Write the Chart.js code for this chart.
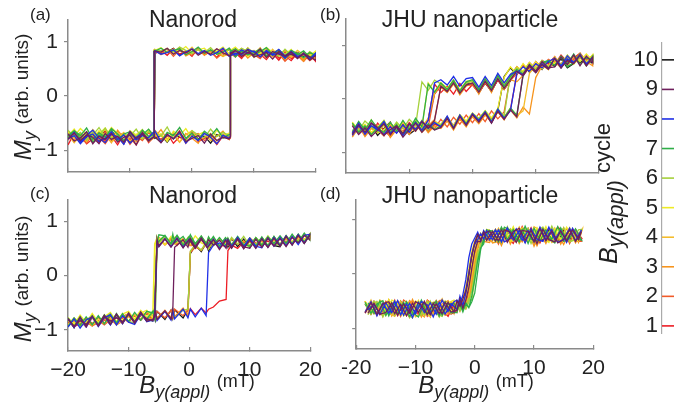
<!DOCTYPE html>
<html><head><meta charset="utf-8">
<script src="https://cdn.jsdelivr.net/npm/chart.js@4.4.1/dist/chart.umd.min.js"></script>
<style>
html,body{margin:0;padding:0;background:#fff;}
#root{position:relative;width:674px;height:411px;overflow:hidden;background:#fff;font-family:'Liberation Sans',Arial,Helvetica,sans-serif;color:#222;}
canvas{position:absolute;}
.t{position:absolute;white-space:nowrap;line-height:1;}
.pl{font-size:17px;}
.ti{font-size:23px;transform:translateX(-50%);}
.lab{position:absolute;white-space:nowrap;line-height:1;font-size:24px;}
.rot{transform:translate(-50%,-50%) rotate(-90deg);}
.hor{transform:translate(-50%,-50%);}
.big{font-style:italic;font-size:24px;}
.sub{font-style:italic;font-size:18px;position:relative;top:5px;}
.rest{font-size:18px;position:relative;top:-6px;}
.resty{font-size:19px;position:relative;top:-3px;}
.lab.lg{font-size:25px;transform-origin:0 0;transform:rotate(-90deg);}
.lg .big{font-size:25px;}
.lg .sub{font-size:22px;top:6px;}
.lg .rest{font-size:22px;top:-7px;}
</style></head>
<body><div id="root">
<canvas id="cA"></canvas><canvas id="cB"></canvas><canvas id="cC"></canvas><canvas id="cD"></canvas><canvas id="cL"></canvas>
<div class="t pl" style="left:30px;top:6px">(a)</div>
<div class="t pl" style="left:320px;top:6px">(b)</div>
<div class="t pl" style="left:30px;top:185px">(c)</div>
<div class="t pl" style="left:320px;top:185px">(d)</div>
<div class="t ti" style="left:193px;top:7.5px">Nanorod</div>
<div class="t ti" style="left:470px;top:7.5px">JHU nanoparticle</div>
<div class="t ti" style="left:193px;top:183.5px">Nanorod</div>
<div class="t ti" style="left:470px;top:183.5px">JHU nanoparticle</div>
<div class="lab rot" style="left:22.7px;top:97px"><span class="big">M</span><span class="sub">y</span> <span class="resty">(arb. units)</span></div>
<div class="lab rot" style="left:22.7px;top:279px"><span class="big">M</span><span class="sub">y</span> <span class="resty">(arb. units)</span></div>
<div class="lab hor" style="left:197px;top:385px"><span class="big">B</span><span class="sub">y(appl)</span> <span class="rest">(mT)</span></div>
<div class="lab hor" style="left:476px;top:385px"><span class="big">B</span><span class="sub">y(appl)</span> <span class="rest">(mT)</span></div>
<div class="lab lg" style="left:595.8px;top:264px"><span class="big">B</span><span class="sub">y(appl)</span> <span class="rest">cycle</span></div>
</div>
<script>
// ---------- tick values / labels ----------
const xTickValues = [-20, -10, 0, 10, 20];
const xTickLabelsC = ['\u221220', '\u221210', '0', '10', '20'];
const xTickLabelsD = ['-20', '\u221210', '0', '10', '20'];
const yTickValues = [-1, 0, 1];
const yTickLabels = ['\u22121', '0', '1'];
const cycleNumbers = [1, 2, 3, 4, 5, 6, 7, 8, 9, 10];
const cycleLabels = ['1', '2', '3', '4', '5', '6', '7', '8', '9', '10'];
const cycleColors = ['#ec1c24', '#f15a29', '#f7941d', '#f4bc2c', '#eeeb25', '#a5d13b', '#2fae48', '#1f2fe6', '#6e1f5c', '#1a1a1a'];

// ---------- (a) Nanorod: field swept up, then down (mT) ----------
const aX = [-20,-19,-18,-17,-16,-15,-14,-13,-12,-11,-10,-9,-8,-7,-6,-5,-4,-3,-2,-1,0,1,2,3,4,5,6,6.2,6.2,7,8,9,10,11,12,13,14,15,16,17,18,19,20,
 20,19,18,17,16,15,14,13,12,11,10,9,8,7,6,5,4,3,2,1,0,-1,-2,-3,-4,-5,-6,-6.1,-6.1,-7,-8,-9,-10,-11,-12,-13,-14,-15,-16,-17,-18,-19,-20];
// M_y in hundredths, one array per cycle
const a1 = [-68,-85,-72,-88,-79,-66,-83,-74,-90,-70,-81,-77,-64,-86,-73,-80,-69,-87,-75,-82,-67,-84,-78,-71,-89,-74,-80,-77,76,84,70,80,73,86,72,78,66,81,69,75,64,77,68,
 63,76,68,79,65,74,70,82,67,77,72,84,69,79,74,86,71,81,76,88,73,83,77,87,75,84,78,80,-76,-84,-70,-81,-67,-88,-74,-79,-65,-86,-72,-83,-77,-69,-90];
const a2 = [-81,-67,-79,-86,-70,-76,-88,-72,-66,-83,-77,-90,-71,-80,-68,-85,-74,-78,-64,-87,-73,-69,-82,-76,-89,-71,-79,-76,78,72,85,76,81,70,83,74,79,68,82,71,76,65,74,
 77,66,80,71,75,64,78,73,83,69,76,81,72,86,74,79,70,84,77,88,75,80,85,73,87,79,83,81,-75,-68,-82,-74,-89,-71,-79,-65,-84,-76,-70,-87,-73,-80,-78];
const a3 = [-77,-64,-83,-70,-86,-75,-68,-81,-73,-88,-66,-79,-71,-84,-76,-62,-80,-72,-85,-69,-78,-87,-67,-82,-74,-65,-80,-75,79,86,74,82,77,89,73,80,76,84,71,79,67,76,70,
 70,79,64,75,81,68,77,72,85,74,80,70,83,76,88,73,79,84,75,86,80,74,89,78,83,76,85,83,-73,-79,-66,-84,-72,-77,-63,-86,-70,-81,-75,-68,-87,-73,-79];
const a4 = [-65,-78,-70,-84,-68,-75,-61,-80,-73,-86,-66,-77,-71,-82,-63,-74,-79,-67,-85,-72,-64,-81,-76,-69,-83,-70,-74,-72,81,77,88,80,84,73,87,79,83,74,82,70,78,73,69,
 80,70,76,84,72,79,74,86,71,81,77,89,75,82,78,73,87,80,84,76,90,79,83,77,88,82,86,84,-72,-63,-77,-70,-83,-67,-76,-85,-69,-74,-62,-80,-73,-86,-71];
const a5 = [-74,-61,-77,-66,-82,-70,-59,-76,-68,-83,-64,-72,-79,-62,-75,-69,-84,-65,-73,-60,-78,-71,-66,-81,-63,-74,-68,-70,84,90,79,86,82,77,89,81,85,76,84,73,80,75,82,
 83,74,80,71,86,77,82,75,89,79,84,73,87,81,78,90,83,76,88,85,79,91,82,86,80,89,84,86,-69,-77,-62,-72,-66,-81,-69,-58,-75,-64,-79,-71,-60,-74,-67];
const a6 = [-63,-76,-69,-81,-66,-73,-59,-78,-71,-84,-65,-75,-62,-80,-68,-74,-57,-79,-70,-83,-64,-72,-77,-61,-75,-67,-73,-71,83,79,88,82,76,85,80,74,84,77,81,72,79,70,77,
 74,82,70,79,75,86,73,80,77,84,71,88,79,75,85,82,77,89,80,86,78,84,90,81,87,83,85,85,-70,-66,-79,-61,-74,-70,-83,-65,-76,-58,-72,-81,-67,-75,-63];
const a7 = [-77,-64,-73,-59,-80,-68,-75,-62,-83,-70,-66,-79,-72,-61,-76,-84,-67,-73,-58,-78,-69,-81,-65,-74,-60,-77,-71,-70,82,87,78,84,75,82,89,76,81,73,84,78,71,80,74,
 79,71,83,76,80,69,85,78,74,87,80,76,83,72,88,81,77,85,79,90,82,76,87,84,80,88,82,84,-71,-74,-63,-79,-68,-82,-70,-60,-76,-72,-85,-66,-78,-64,-73];
const a8 = [-80,-67,-84,-72,-63,-78,-86,-70,-75,-89,-66,-81,-73,-77,-64,-85,-71,-79,-68,-87,-74,-82,-69,-76,-88,-72,-78,-74,80,75,85,79,83,72,81,77,86,74,80,70,79,68,76,
 80,68,77,73,82,70,79,75,84,72,81,86,76,79,73,88,80,75,84,78,87,81,74,85,80,77,83,82,-74,-82,-69,-76,-87,-72,-80,-66,-78,-84,-70,-75,-88,-73,-79];
const a9 = [-70,-83,-77,-66,-88,-74,-80,-69,-85,-76,-72,-90,-67,-81,-75,-86,-71,-79,-65,-84,-78,-73,-87,-70,-82,-76,-79,-75,79,84,73,80,76,86,71,82,77,74,81,69,78,72,66,
 75,66,79,70,77,73,82,68,80,76,72,85,78,83,74,80,87,77,82,75,86,79,84,77,88,81,83,81,-75,-83,-70,-78,-66,-85,-74,-80,-69,-88,-76,-72,-82,-68,-79];
const a10 = [-79,-68,-75,-84,-70,-77,-65,-82,-73,-69,-86,-74,-80,-67,-78,-72,-85,-70,-76,-81,-66,-79,-74,-87,-71,-77,-75,-74,80,86,76,83,79,74,85,78,82,72,80,75,71,79,73,
 69,78,73,80,76,71,83,77,74,85,79,75,82,78,87,74,81,84,77,86,80,83,76,88,81,78,84,82,-73,-80,-68,-76,-71,-84,-73,-66,-79,-82,-70,-77,-86,-72,-75];

// ---------- (b) JHU nanoparticle ----------
const bX = [-19,-18,-17,-16,-15,-14,-13,-12,-11,-10,-9,-8,-7,-6,-5,-4,-3,-2,-1,0,1,2,3,4,5,6,7,8,9,10,11,12,13,14,15,16,17,18,19,
 19,18,17,16,15,14,13,12,11,10,9,8,7,6,5,4,3,2,1,0,-1,-2,-3,-4,-5,-6,-7,-8,-9,-10,-11,-12,-13,-14,-15,-16,-17,-18,-19];
const b1 = [-48,-63,-52,-67,-45,-58,-70,-50,-61,-44,-55,-42,-60,-47,-52,-36,-49,-31,-45,-28,-40,-25,-38,-21,-34,-19,45,63,52,70,58,74,64,82,69,77,85,68,80,
 80,66,84,71,77,62,79,65,72,56,68,50,60,38,22,35,16,30,12,27,14,29,9,24,12,28,-38,-55,-42,-60,-47,-63,-50,-66,-54,-45,-64,-49,-67];
const b2 = [-62,-47,-66,-51,-58,-69,-46,-60,-53,-65,-44,-59,-48,-55,-38,-52,-34,-47,-30,-44,-27,-42,-22,-37,-24,44,60,48,66,55,71,60,77,65,81,70,84,73,79,
 82,70,86,74,64,79,68,73,58,67,53,62,47,35,19,38,15,31,11,26,26,10,30,13,25,9,-52,-40,-58,-45,-62,-48,-57,-66,-51,-44,-63,-55,-68];
const b3 = [-65,-50,-70,-55,-62,-48,-72,-57,-64,-52,-60,-46,-63,-50,-55,-41,-58,-37,-52,-33,-46,-30,-43,-24,-39,-20,-35,-15,-28,40,62,58,72,64,80,66,76,70,62,
 76,63,80,68,74,58,70,55,63,50,58,44,32,36,18,40,12,34,9,30,24,8,28,12,22,-38,-50,-62,-45,-66,-52,-58,-70,-48,-63,-55,-68,-53,-71];
const b4 = [-46,-60,-50,-64,-55,-42,-61,-48,-66,-52,-58,-43,-56,-41,-49,-35,-51,-30,-44,-27,-38,-23,-40,-20,-34,-17,-31,-22,48,62,68,55,74,63,79,68,84,70,77,
 79,66,82,70,75,60,78,62,69,54,65,48,56,40,25,42,19,37,16,33,30,14,33,17,28,11,-36,-52,-40,-58,-44,-61,-47,-63,-55,-42,-60,-46,-65];
const b5 = [-43,-58,-47,-62,-52,-40,-60,-45,-63,-49,-55,-40,-53,-44,-47,-33,-50,-29,-41,-26,-37,-22,-35,-18,40,60,47,66,52,70,56,72,66,78,62,80,70,84,72,
 83,68,80,65,76,62,78,60,71,56,68,52,60,42,28,45,22,38,19,35,33,17,36,20,31,14,30,-55,-38,-58,-41,-60,-44,-57,-63,-39,-59,-43,-62];
const b6 = [-60,-44,-64,-49,-55,-40,-62,-47,-66,-51,-57,-41,-58,-44,-48,-33,-52,-30,-46,-27,-36,-22,-40,-18,-32,46,58,50,66,56,72,60,74,64,82,68,78,62,80,
 78,65,82,68,74,60,76,58,68,52,64,47,55,38,22,40,19,35,15,33,30,14,34,18,28,35,16,32,-50,-38,-56,-43,-60,-47,-62,-52,-41,-59,-48];
const b7 = [-45,-62,-50,-66,-54,-43,-63,-48,-67,-56,-42,-60,-46,-57,-50,-35,-54,-31,-46,-28,-39,-24,-42,-20,-35,-17,-30,44,62,50,68,72,62,80,66,84,64,78,70,
 80,64,84,68,60,78,63,70,68,50,64,46,55,42,24,44,20,38,17,36,32,15,35,18,30,13,28,-52,-36,-57,-40,-60,-44,-62,-55,-39,-58,-42,-63];
const b8 = [-63,-45,-66,-50,-58,-42,-64,-53,-68,-47,-56,-41,-55,-44,-52,-32,-54,-30,-48,-27,-40,-24,-43,-19,-36,-22,48,60,52,66,58,70,76,62,80,68,83,66,78,
 78,63,82,67,75,58,76,56,66,50,63,45,52,46,30,48,25,42,22,40,38,24,42,26,36,30,-40,-58,-44,-62,-48,-64,-52,-66,-57,-45,-65,-50,-68];
const b9 = [-50,-66,-54,-70,-58,-46,-67,-52,-71,-57,-45,-62,-49,-58,-53,-36,-55,-33,-49,-29,-43,-26,-45,-23,-38,-20,-33,46,64,52,70,58,60,78,64,82,62,80,68,
 78,62,82,66,72,58,76,56,64,49,61,43,52,36,20,38,16,33,13,30,26,11,30,14,24,-40,-54,-42,-60,-46,-64,-50,-57,-68,-53,-45,-62,-48,-66];
const b10 = [-60,-46,-64,-50,-68,-55,-43,-62,-49,-66,-57,-42,-59,-47,-50,-36,-53,-32,-47,-29,-41,-26,-44,-22,42,58,46,64,50,68,55,72,64,78,60,82,68,76,66,
 76,62,80,66,58,75,61,68,66,52,63,48,57,34,18,36,14,30,11,28,28,12,31,15,26,10,-38,-55,-42,-59,-46,-62,-50,-64,-56,-43,-61,-47,-66];

// ---------- (c) Nanorod ----------
const cX = [-20,-19,-18,-17,-16,-15,-14,-13,-12,-11,-10,-9,-8,-7,-6,-5.6,-5.3,-4,-3,-2.7,-2.4,-1,-0.2,0.2,1,2,2.8,3.2,4,5,6.1,6.4,7,8,9,10,11,12,13,14,15,16,17,18,19,20,
 20,19,18,17,16,15,14,13,12,11,10,9,8,7,6,5,4,3,2,1,0,-1,-2,-3,-4,-5,-5.3,-5.7,-6,-7,-8,-9,-10,-11,-12,-13,-14,-15,-16,-17,-18,-19,-20];
const c1 = [-80,-92,-84,-95,-78,-90,-82,-72,-88,-76,-70,-86,-74,-68,-80,-69,-78,-66,-79,-64,-76,-62,-75,-61,-72,-60,-69,-62,-58,-47,-44,46,56,50,62,54,66,58,63,56,68,61,70,64,74,69,
 76,66,73,60,70,58,67,55,65,57,66,54,68,56,63,52,67,58,70,56,66,58,70,60,68,62,64,-66,-74,-80,-70,-84,-73,-87,-76,-90,-80,-86,-93,-82,-89,-94,-85];
const c2 = [-90,-80,-93,-84,-77,-91,-82,-88,-74,-86,-72,-84,-70,-81,-68,-80,-66,-78,-64,-77,-62,-74,-63,42,52,47,58,50,62,56,54,64,58,66,55,69,60,54,67,59,70,62,72,64,75,69,
 74,64,72,60,69,57,67,54,66,56,64,53,67,55,66,52,64,54,68,57,58,67,55,68,57,70,60,-72,-78,-70,-82,-74,-86,-78,-89,-81,-91,-83,-88,-79,-92,-85,-90];
const c3 = [-82,-93,-79,-89,-76,-90,-80,-85,-73,-88,-75,-84,-70,-80,-82,-67,-79,-64,-78,-62,-76,-60,-74,44,56,46,60,49,63,54,66,56,68,57,64,54,69,58,71,60,56,70,62,73,65,74,
 72,62,70,57,68,55,66,52,64,54,62,51,65,53,61,50,63,54,65,55,55,64,58,66,56,68,58,-71,-77,-83,-72,-86,-75,-84,-91,-80,-89,-84,-93,-86,-91,-82,-94];
const c4 = [-80,-91,-83,-94,-76,-89,-78,-85,-72,-88,-70,-85,-68,-79,-82,-67,56,67,57,70,58,68,60,70,57,68,58,68,55,66,56,66,57,68,58,54,67,57,70,60,69,58,72,63,75,66,
 76,64,73,61,71,57,68,55,66,56,66,54,68,57,65,53,67,56,69,55,68,58,70,57,68,60,66,-64,-70,-68,-80,-72,-84,-70,-85,-77,-88,-79,-91,-83,-87,-78,-90];
const c5 = [-77,-90,-73,-87,-70,-86,-76,-68,-85,-71,-66,-82,-69,-64,-78,58,70,57,72,60,70,56,70,58,73,60,56,70,57,69,55,68,56,70,58,53,69,57,71,60,72,59,74,63,77,66,
 78,66,75,61,72,58,70,56,68,55,68,56,70,57,67,54,69,57,71,56,70,58,72,59,70,68,70,58,-66,-76,-64,-80,-68,-83,-71,-86,-74,-88,-78,-90,-82,-87,-84];
const c6 = [-92,-80,-94,-82,-74,-90,-78,-70,-88,-73,-84,-88,-71,-80,-84,-68,-80,-66,-80,-63,-78,-64,-62,45,56,47,61,49,64,55,67,57,70,58,72,55,70,57,73,58,56,71,60,74,63,76,
 77,62,76,60,74,56,72,54,70,57,68,53,71,56,69,54,70,56,72,58,71,59,73,58,72,60,70,-60,-68,-82,-68,-85,-71,-87,-74,-89,-72,-90,-77,-92,-80,-94,-82];
const c7 = [-78,-94,-76,-92,-74,-90,-73,-89,-70,-87,-71,-85,-69,-80,-66,-80,60,74,58,76,60,72,58,75,59,72,57,71,56,70,55,69,56,72,57,54,70,56,71,59,73,59,76,61,78,64,
 77,62,76,58,73,56,72,55,71,54,69,55,71,56,70,54,72,56,73,57,72,56,74,58,73,75,60,-63,-69,-66,-82,-68,-85,-70,-87,-72,-89,-74,-91,-76,-92,-78,-94];
const c8 = [-95,-80,-97,-82,-76,-94,-78,-72,-91,-74,-86,-90,-71,-80,-84,-67,-83,-66,-82,-64,-80,-62,-78,-62,-76,-60,-74,42,56,60,53,66,54,70,53,69,54,51,69,54,70,55,72,57,74,76,
 76,60,75,57,73,55,70,52,68,51,66,50,68,51,66,50,67,52,68,51,67,52,69,53,68,54,61,-75,-82,-85,-68,-87,-70,-89,-72,-91,-74,-93,-76,-95,-78,-96,-80];
const c9 = [-81,-93,-83,-90,-75,-93,-76,-84,-78,-85,-71,-88,-70,-80,-83,-66,-81,-65,-80,-64,52,66,52,68,53,69,54,66,56,65,50,66,52,68,53,50,67,52,69,54,68,53,70,60,74,65,
 76,59,74,56,72,54,69,52,68,50,65,49,67,50,65,48,66,51,67,50,66,51,68,52,67,53,66,-76,-81,-84,-67,-86,-69,-88,-71,-90,-73,-92,-75,-94,-77,-95,-79];
const c10 = [-79,-96,-77,-93,-76,-92,-74,-90,-73,-88,-71,-87,-69,-84,-67,-83,-66,-81,-64,-79,-63,-78,-63,40,56,44,60,45,63,51,66,52,68,53,67,51,69,54,70,55,53,71,57,74,59,76,
 77,60,75,57,73,55,71,53,69,52,67,51,69,52,67,51,68,53,69,52,68,53,70,54,69,55,68,-63,-68,-70,-82,-73,-85,-74,-86,-76,-88,-78,-90,-80,-92,-81,-90];

// ---------- (d) JHU nanoparticle ----------
const dX = [-18.5,-17.5,-16.5,-15.5,-14.5,-13.5,-12.5,-11.5,-10.5,-9.5,-8.5,-7.5,-6.5,-5.5,-4.5,-3.5,-3,-2.5,-2,-1.5,-1,-0.5,0,0.5,1,1.5,2.5,3.5,4.5,5.5,6.5,7.5,8.5,9.5,10.5,11.5,12.5,13.5,14.5,15.5,16.5,17.5,
 18,17,16,15,14,13,12,11,10,9,8,7,6,5,4,3,2,1.5,1,0.5,0,-0.5,-1,-1.5,-2,-2.5,-3,-4,-5,-6,-7,-8,-9,-10,-11,-12,-13,-14,-15,-16,-17,-18];
const d1 = [-50,-74,-56,-70,-48,-77,-58,-68,-52,-75,-60,-72,-49,-66,-78,-55,-64,-48,-55,-40,-20,25,52,64,74,62,80,60,84,66,56,82,64,85,58,77,83,60,79,63,82,68,
 66,82,58,78,86,62,80,57,83,65,87,60,76,82,58,79,64,76,60,58,40,10,-30,-55,-62,-46,-68,-74,-52,-78,-58,-48,-73,-55,-80,-62,-50,-76,-56,-72,-50,-69];
const d2 = [-72,-52,-76,-55,-70,-48,-78,-58,-50,-74,-56,-79,-54,-47,-72,-53,-68,-52,-60,-44,-35,-5,35,58,72,64,62,82,56,79,64,85,58,76,54,83,62,80,58,84,65,60,
 60,80,56,85,64,58,82,66,56,84,62,78,60,82,55,77,80,60,70,50,20,-15,-45,-50,-66,-48,-70,-52,-74,-50,-70,-78,-52,-73,-56,-48,-77,-58,-50,-75,-54,-71];
const d3 = [-50,-74,-56,-78,-48,-71,-53,-76,-47,-70,-79,-52,-72,-55,-49,-73,-50,-68,-48,-56,-40,-15,20,50,68,60,58,79,52,77,83,56,74,81,52,77,60,84,55,76,80,58,
 77,57,79,54,74,82,56,76,51,80,59,78,55,83,60,57,76,58,66,45,15,-25,-50,-64,-55,-62,-52,-70,-76,-50,-73,-55,-79,-58,-49,-75,-54,-77,-51,-72,-53,-74];
const d4 = [-70,-48,-74,-53,-72,-78,-50,-70,-74,-49,-77,-54,-72,-46,-70,-51,-67,-48,-56,-42,-25,10,45,62,74,66,78,59,84,66,60,86,63,81,57,85,65,61,82,63,80,62,
 80,61,85,64,59,83,63,80,87,61,78,58,82,64,84,60,80,63,70,52,30,-5,-40,-60,-52,-64,-55,-51,-71,-54,-76,-49,-73,-79,-53,-72,-50,-75,-56,-48,-73,-54];
const d5 = [-50,-70,-52,-74,-47,-68,-76,-51,-71,-49,-69,-78,-50,-72,-53,-48,-64,-46,-45,-25,10,42,60,74,66,78,80,62,84,64,87,59,81,62,85,65,58,83,63,86,66,61,
 79,64,84,62,82,59,87,64,81,61,85,66,60,83,60,78,82,65,75,62,48,20,-20,-48,-62,-46,-66,-68,-50,-72,-52,-75,-55,-50,-71,-77,-53,-48,-73,-55,-51,-71];
const d6 = [-54,-74,-51,-79,-56,-76,-53,-72,-81,-55,-75,-50,-73,-78,-53,-71,-55,-66,-57,-63,-45,-48,-10,30,58,74,62,82,57,87,64,60,84,56,80,86,63,59,82,65,61,81,
 82,63,59,85,65,88,61,81,58,84,64,62,83,66,60,79,63,73,52,40,5,-30,-52,-64,-54,-68,-58,-73,-53,-79,-56,-51,-76,-57,-80,-54,-74,-52,-77,-57,-50,-75];
const d7 = [-52,-72,-55,-49,-77,-54,-74,-51,-71,-79,-53,-73,-50,-76,-56,-54,-66,-56,-70,-55,-62,-51,-35,5,45,64,79,60,86,63,82,59,88,64,61,83,66,57,85,63,81,65,
 62,83,65,60,87,64,81,61,84,56,82,63,80,86,59,79,81,55,48,25,-10,-40,-62,-53,-64,-50,-71,-71,-51,-77,-54,-74,-48,-70,-78,-52,-73,-55,-76,-50,-72,-53];
const d8 = [-70,-51,-77,-54,-72,-50,-75,-55,-80,-52,-71,-53,-74,-48,-69,-51,-48,-57,-38,-10,30,55,66,77,61,80,63,81,59,85,62,80,57,83,64,60,86,63,80,58,84,65,
 81,61,84,64,58,82,63,86,60,80,62,83,65,59,81,63,80,64,74,63,55,35,0,-35,-58,-41,-65,-55,-74,-52,-79,-57,-51,-73,-54,-76,-49,-71,-53,-74,-56,-66];
const d9 = [-72,-53,-74,-55,-51,-73,-56,-77,-54,-71,-50,-75,-55,-73,-52,-70,-50,-59,-46,-30,0,35,58,73,63,74,79,61,81,58,78,84,62,80,56,82,63,59,79,61,81,63,
 78,60,81,63,57,79,61,83,59,78,80,58,77,81,61,78,62,77,59,60,42,10,-25,-48,-63,-46,-67,-70,-52,-73,-54,-75,-57,-51,-72,-55,-76,-53,-71,-74,-54,-72];
const d10 = [-55,-73,-52,-71,-54,-74,-50,-70,-72,-53,-73,-55,-51,-71,-54,-66,-51,-61,-42,-35,-5,30,55,72,62,78,63,80,60,79,62,82,59,78,81,61,79,63,80,60,78,62,
 63,79,61,81,60,78,80,62,59,79,63,81,61,78,62,79,63,76,57,56,35,0,-32,-57,-50,-66,-52,-67,-53,-69,-56,-72,-52,-74,-54,-71,-51,-72,-55,-67,-73,-56];

const panelA = [a1,a2,a3,a4,a5,a6,a7,a8,a9,a10];
const panelB = [b1,b2,b3,b4,b5,b6,b7,b8,b9,b10];
const panelC = [c1,c2,c3,c4,c5,c6,c7,c8,c9,c10];
const panelD = [d1,d2,d3,d4,d5,d6,d7,d8,d9,d10];

// ---------- drawing ----------
Chart.defaults.font.family = "'Liberation Sans', Arial, Helvetica, sans-serif";
Chart.defaults.color = '#222';
const axisColor = '#8a8a8a';

function pts(xs, ys) { return xs.map((x, i) => ({ x: x, y: ys[i] / 100 })); }

function place(canvas, b) {
  const w = b.yAxisW + (b.right - b.left) + b.padRight;
  const h = b.padTop + (b.bottom - b.top) + b.xAxisH + (b.padBottom || 0);
  canvas.width = w; canvas.height = h;
  canvas.style.left = (b.left - b.yAxisW) + 'px';
  canvas.style.top = (b.top - b.padTop) + 'px';
  canvas.style.width = w + 'px'; canvas.style.height = h + 'px';
}

// stacking: cycle 9 on top, cycle 10 (black) underneath
function stackOrder(k) { return k === 9 ? 10 : 9 - k; }

function makePanel(id, b, xs, cycles, yMin, yMax, xLabels, yLabels) {
  const cv = document.getElementById(id);
  place(cv, b);
  const datasets = cycles.map((ys, k) => ({
    data: pts(xs, ys), showLine: true, borderColor: cycleColors[k], backgroundColor: cycleColors[k],
    borderWidth: 1.3, pointRadius: 0, fill: false, tension: 0, order: stackOrder(k)
  }));
  new Chart(cv, {
    type: 'scatter',
    data: { datasets: datasets },
    options: {
      animation: false, responsive: false, maintainAspectRatio: false, events: [], devicePixelRatio: 1,
      layout: { padding: { top: b.padTop, right: b.padRight, left: 0, bottom: b.padBottom || 0 } },
      plugins: { legend: { display: false }, tooltip: { enabled: false } },
      scales: {
        x: {
          type: 'linear', position: 'bottom', min: -20, max: 20,
          afterBuildTicks: s => { s.ticks = xTickValues.map(v => ({ value: v })); },
          afterFit: s => { s.height = b.xAxisH; },
          grid: { drawOnChartArea: false, drawTicks: true, tickLength: -4, color: axisColor, lineWidth: 1.2 },
          border: { display: true, color: axisColor, width: 1.5 },
          ticks: { padding: 11, autoSkip: false, maxRotation: 0, font: { size: 21 }, color: '#222',
                   callback: (v, i) => xLabels ? xLabels[i] : '' }
        },
        y: {
          type: 'linear', position: 'left', min: yMin, max: yMax,
          afterBuildTicks: s => { s.ticks = yTickValues.map(v => ({ value: v })); },
          afterFit: s => { s.width = b.yAxisW; },
          grid: { drawOnChartArea: false, drawTicks: true, tickLength: 4, color: axisColor, lineWidth: 1.2 },
          border: { display: true, color: axisColor, width: 1.5 },
          ticks: { padding: 6, autoSkip: false, font: { size: 21 }, color: '#222',
                   callback: (v, i) => yLabels ? yLabels[i] : '' }
        }
      }
    }
  });
}

makePanel('cA', {left:68, right:316, top:20, bottom:172, yAxisW:68, padTop:20, padRight:20, xAxisH:10, padBottom:12}, aX, panelA, -1.4, 1.4, null, yTickLabels);
makePanel('cB', {left:346, right:599, top:12, bottom:173, yAxisW:20, padTop:12, padRight:20, xAxisH:10, padBottom:12}, bX, panelB, -1.38, 1.5, null, null);
makePanel('cC', {left:68, right:313, top:200, bottom:351, yAxisW:68, padTop:20, padRight:20, xAxisH:45}, cX, panelC, -1.39, 1.39, xTickLabelsC, yTickLabels);
makePanel('cD', {left:350, right:596, top:200, bottom:349, yAxisW:20, padTop:20, padRight:20, xAxisH:45}, dX, panelD, -1.38, 1.36, xTickLabelsD, null);

// ---------- cycle colour key ----------
(function () {
  const cv = document.getElementById('cL');
  const b = {left:662, right:674, top:43, bottom:333, yAxisW:40, padTop:22, padRight:0, xAxisH:0, padBottom:22};
  place(cv, b);
  const datasets = cycleNumbers.map((n, k) => ({
    data: [{ x: 0, y: n }, { x: 1, y: n }], showLine: true, borderColor: cycleColors[k],
    borderWidth: 1.6, pointRadius: 0, fill: false
  }));
  new Chart(cv, {
    type: 'scatter',
    data: { datasets: datasets },
    options: {
      animation: false, responsive: false, maintainAspectRatio: false, events: [], devicePixelRatio: 1,
      layout: { padding: { top: b.padTop, right: 0, left: 0, bottom: b.padBottom } },
      plugins: { legend: { display: false }, tooltip: { enabled: false } },
      scales: {
        x: { type: 'linear', display: false, min: 0, max: 1 },
        y: {
          type: 'linear', position: 'left', min: 0.76, max: 10.57,
          afterBuildTicks: s => { s.ticks = cycleNumbers.map(v => ({ value: v })); },
          afterFit: s => { s.width = b.yAxisW; },
          grid: { drawOnChartArea: false, drawTicks: false },
          border: { display: true, color: '#aaa', width: 1.2 },
          ticks: { padding: 4, autoSkip: false, font: { size: 22 }, color: '#222',
                   callback: (v, i) => cycleLabels[i] }
        }
      }
    }
  });
})();
</script>
</body></html>
